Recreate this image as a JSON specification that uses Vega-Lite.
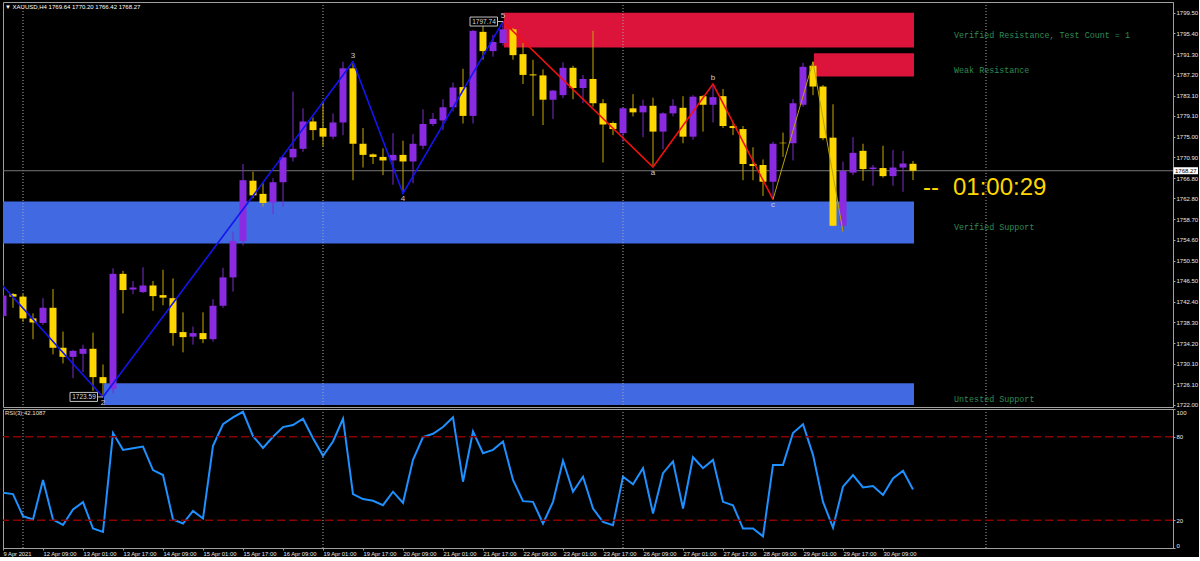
{
  "$schema": "https://vega.github.io/schema/vega-lite/v6.json",
  "background": "#000000",
  "padding": {"left": 1, "top": 1, "right": 0, "bottom": 0},
  "spacing": 2,
  "bounds": "flush",
  "datasets": {
    "candles": [
      {"i":0,"o":1739.6,"h":1746.7,"l":1739.2,"c":1743.6},
      {"i":1,"o":1743.9,"h":1744.1,"l":1741.2,"c":1743.4},
      {"i":2,"o":1743.4,"h":1743.9,"l":1738.4,"c":1739.1},
      {"i":3,"o":1739.1,"h":1740.1,"l":1735.0,"c":1738.3},
      {"i":4,"o":1738.2,"h":1743.1,"l":1737.8,"c":1741.2},
      {"i":5,"o":1741.2,"h":1744.9,"l":1732.0,"c":1733.3},
      {"i":6,"o":1733.3,"h":1736.5,"l":1730.2,"c":1731.5},
      {"i":7,"o":1731.5,"h":1732.9,"l":1727.3,"c":1732.7},
      {"i":8,"o":1732.1,"h":1733.9,"l":1728.5,"c":1733.1},
      {"i":9,"o":1733.1,"h":1736.3,"l":1724.8,"c":1727.5},
      {"i":10,"o":1727.5,"h":1730.0,"l":1723.59,"c":1726.3},
      {"i":11,"o":1725.2,"h":1749.0,"l":1724.3,"c":1747.9},
      {"i":12,"o":1747.9,"h":1748.5,"l":1740.1,"c":1744.7},
      {"i":13,"o":1744.8,"h":1746.5,"l":1743.9,"c":1745.2},
      {"i":14,"o":1744.3,"h":1749.2,"l":1744.1,"c":1745.6},
      {"i":15,"o":1745.6,"h":1746.5,"l":1740.6,"c":1743.5},
      {"i":16,"o":1743.7,"h":1748.7,"l":1741.7,"c":1743.2},
      {"i":17,"o":1743.1,"h":1747.0,"l":1733.7,"c":1736.2},
      {"i":18,"o":1736.4,"h":1740.3,"l":1732.4,"c":1735.4},
      {"i":19,"o":1735.5,"h":1737.5,"l":1733.9,"c":1736.2},
      {"i":20,"o":1736.2,"h":1740.3,"l":1734.2,"c":1735.0},
      {"i":21,"o":1735.0,"h":1742.9,"l":1734.5,"c":1741.6},
      {"i":22,"o":1741.6,"h":1749.1,"l":1741.2,"c":1747.2},
      {"i":23,"o":1747.2,"h":1756.2,"l":1744.4,"c":1754.4},
      {"i":24,"o":1754.4,"h":1769.6,"l":1753.5,"c":1766.4},
      {"i":25,"o":1766.3,"h":1768.1,"l":1762.8,"c":1763.4},
      {"i":26,"o":1763.7,"h":1765.8,"l":1761.2,"c":1761.9},
      {"i":27,"o":1762.0,"h":1766.8,"l":1759.7,"c":1766.0},
      {"i":28,"o":1766.0,"h":1771.0,"l":1761.2,"c":1770.9},
      {"i":29,"o":1770.9,"h":1783.9,"l":1770.1,"c":1772.6},
      {"i":30,"o":1772.6,"h":1780.6,"l":1772.0,"c":1778.0},
      {"i":31,"o":1778.0,"h":1778.8,"l":1774.3,"c":1776.3},
      {"i":32,"o":1776.7,"h":1781.9,"l":1773.0,"c":1775.0},
      {"i":33,"o":1775.0,"h":1779.6,"l":1774.5,"c":1777.8},
      {"i":34,"o":1777.8,"h":1789.8,"l":1775.3,"c":1788.5},
      {"i":35,"o":1788.5,"h":1789.8,"l":1766.4,"c":1773.6},
      {"i":36,"o":1773.6,"h":1776.7,"l":1768.9,"c":1771.4},
      {"i":37,"o":1771.5,"h":1771.7,"l":1769.6,"c":1771.0},
      {"i":38,"o":1771.0,"h":1772.7,"l":1767.4,"c":1770.3},
      {"i":39,"o":1770.3,"h":1775.7,"l":1765.5,"c":1771.4},
      {"i":40,"o":1771.4,"h":1774.2,"l":1763.8,"c":1770.1},
      {"i":41,"o":1770.1,"h":1775.5,"l":1765.8,"c":1773.6},
      {"i":42,"o":1773.2,"h":1780.4,"l":1772.5,"c":1777.5},
      {"i":43,"o":1777.5,"h":1779.7,"l":1777.1,"c":1778.5},
      {"i":44,"o":1778.2,"h":1782.4,"l":1776.3,"c":1780.8},
      {"i":45,"o":1780.8,"h":1785.7,"l":1780.0,"c":1784.7},
      {"i":46,"o":1784.8,"h":1788.4,"l":1777.6,"c":1779.1},
      {"i":47,"o":1779.1,"h":1796.1,"l":1777.6,"c":1795.9},
      {"i":48,"o":1795.7,"h":1797.4,"l":1790.2,"c":1791.9},
      {"i":49,"o":1791.9,"h":1795.1,"l":1790.8,"c":1793.7},
      {"i":50,"o":1793.5,"h":1797.74,"l":1793.0,"c":1796.2},
      {"i":51,"o":1796.2,"h":1796.5,"l":1790.2,"c":1791.1},
      {"i":52,"o":1791.3,"h":1793.5,"l":1785.4,"c":1787.2},
      {"i":53,"o":1787.3,"h":1790.2,"l":1779.1,"c":1787.1},
      {"i":54,"o":1787.1,"h":1788.3,"l":1777.3,"c":1782.3},
      {"i":55,"o":1782.3,"h":1784.2,"l":1778.5,"c":1784.1},
      {"i":56,"o":1783.2,"h":1789.7,"l":1782.6,"c":1788.6},
      {"i":57,"o":1788.6,"h":1789.0,"l":1782.4,"c":1784.6},
      {"i":58,"o":1784.6,"h":1787.2,"l":1781.6,"c":1786.4},
      {"i":59,"o":1786.4,"h":1795.9,"l":1780.9,"c":1781.6},
      {"i":60,"o":1781.6,"h":1782.4,"l":1769.9,"c":1777.4},
      {"i":61,"o":1777.7,"h":1778.0,"l":1775.3,"c":1776.5},
      {"i":62,"o":1775.7,"h":1780.8,"l":1774.0,"c":1780.6},
      {"i":63,"o":1780.6,"h":1783.4,"l":1779.0,"c":1779.8},
      {"i":64,"o":1779.8,"h":1782.3,"l":1774.9,"c":1781.1},
      {"i":65,"o":1781.1,"h":1782.7,"l":1769.0,"c":1776.0},
      {"i":66,"o":1776.0,"h":1779.8,"l":1772.5,"c":1779.6},
      {"i":67,"o":1779.6,"h":1782.4,"l":1779.0,"c":1781.1},
      {"i":68,"o":1780.7,"h":1783.0,"l":1773.7,"c":1775.0},
      {"i":69,"o":1775.0,"h":1783.2,"l":1774.4,"c":1782.9},
      {"i":70,"o":1783.0,"h":1783.2,"l":1776.0,"c":1781.3},
      {"i":71,"o":1781.3,"h":1785.4,"l":1777.8,"c":1782.8},
      {"i":72,"o":1783.0,"h":1784.4,"l":1776.7,"c":1777.1},
      {"i":73,"o":1777.1,"h":1777.6,"l":1775.3,"c":1776.7},
      {"i":74,"o":1776.5,"h":1777.1,"l":1766.4,"c":1769.6},
      {"i":75,"o":1769.6,"h":1772.9,"l":1766.4,"c":1769.2},
      {"i":76,"o":1769.4,"h":1770.5,"l":1763.3,"c":1766.1},
      {"i":77,"o":1766.1,"h":1774.0,"l":1762.6,"c":1773.6},
      {"i":78,"o":1773.8,"h":1775.8,"l":1771.0,"c":1773.7},
      {"i":79,"o":1773.7,"h":1782.4,"l":1770.3,"c":1781.6},
      {"i":80,"o":1781.3,"h":1789.6,"l":1780.9,"c":1788.8},
      {"i":81,"o":1789.0,"h":1789.8,"l":1783.2,"c":1784.9},
      {"i":82,"o":1784.9,"h":1785.2,"l":1774.3,"c":1774.7},
      {"i":83,"o":1774.8,"h":1781.4,"l":1757.3,"c":1757.4},
      {"i":84,"o":1757.4,"h":1770.1,"l":1756.2,"c":1768.2},
      {"i":85,"o":1767.9,"h":1774.9,"l":1767.4,"c":1771.8},
      {"i":86,"o":1772.2,"h":1773.6,"l":1766.3,"c":1768.6},
      {"i":87,"o":1768.6,"h":1769.4,"l":1765.3,"c":1768.9},
      {"i":88,"o":1768.8,"h":1773.2,"l":1766.9,"c":1767.2},
      {"i":89,"o":1767.2,"h":1772.4,"l":1765.3,"c":1768.9},
      {"i":90,"o":1768.9,"h":1772.2,"l":1764.1,"c":1769.7},
      {"i":91,"o":1769.64,"h":1770.2,"l":1766.42,"c":1768.27}
    ],
    "rsi": [
      {"i":0,"v":39.7},{"i":1,"v":38.8},{"i":2,"v":22.9},{"i":3,"v":20.5},{"i":4,"v":48.9},
      {"i":5,"v":20.5},{"i":6,"v":16.6},{"i":7,"v":27.7},{"i":8,"v":33.0},{"i":9,"v":14.0},
      {"i":10,"v":11.6},{"i":11,"v":82.7},{"i":12,"v":70.6},{"i":13,"v":71.8},{"i":14,"v":73.0},
      {"i":15,"v":56.1},{"i":16,"v":52.5},{"i":17,"v":20.5},{"i":18,"v":17.6},{"i":19,"v":26.7},
      {"i":20,"v":21.2},{"i":21,"v":73.5},{"i":22,"v":89},{"i":23,"v":94},{"i":24,"v":98},
      {"i":25,"v":80.5},{"i":26,"v":72},{"i":27,"v":80},{"i":28,"v":87},{"i":29,"v":88.5},
      {"i":30,"v":93},{"i":31,"v":79},{"i":32,"v":66.3},{"i":33,"v":76.6},{"i":34,"v":93},
      {"i":35,"v":38.8},{"i":36,"v":35.2},{"i":37,"v":34},{"i":38,"v":30.8},{"i":39,"v":40.5},
      {"i":40,"v":32.5},{"i":41,"v":63.4},{"i":42,"v":79.8},{"i":43,"v":82.2},{"i":44,"v":87},
      {"i":45,"v":94},{"i":46,"v":47.7},{"i":47,"v":83.8},{"i":48,"v":68.2},{"i":49,"v":70.6},
      {"i":50,"v":76.6},{"i":51,"v":48.9},{"i":52,"v":33.7},{"i":53,"v":33.2},{"i":54,"v":17.6},
      {"i":55,"v":33.2},{"i":56,"v":62.9},{"i":57,"v":40.5},{"i":58,"v":51.3},{"i":59,"v":28.4},
      {"i":60,"v":18.8},{"i":61,"v":16.4},{"i":62,"v":51.3},{"i":63,"v":45.8},{"i":64,"v":57.4},
      {"i":65,"v":24.8},{"i":66,"v":53.8},{"i":67,"v":62.2},{"i":68,"v":28.4},{"i":69,"v":65.3},
      {"i":70,"v":57.4},{"i":71,"v":63.4},{"i":72,"v":33.2},{"i":73,"v":30.8},{"i":74,"v":14},
      {"i":75,"v":14},{"i":76,"v":8.4},{"i":77,"v":59.8},{"i":78,"v":59.8},{"i":79,"v":82.7},
      {"i":80,"v":89},{"i":81,"v":67},{"i":82,"v":33.2},{"i":83,"v":14.7},{"i":84,"v":44.1},
      {"i":85,"v":52.5},{"i":86,"v":43.6},{"i":87,"v":44.6},{"i":88,"v":38.1},{"i":89,"v":50.1},
      {"i":90,"v":55.6},{"i":91,"v":42.1087}
    ],
    "zones": [
      {"start":50.1,"end":91.1,"top":1799.5,"bot":1792.6,"kind":"resistance","label":"Verified Resistance, Test Count = 1"},
      {"start":81.1,"end":91.1,"top":1791.5,"bot":1786.9,"kind":"resistance","label":"Weak Resistance"},
      {"start":0,"end":91.1,"top":1762.2,"bot":1753.9,"kind":"support","label":"Verified Support"},
      {"start":10.1,"end":91.1,"top":1726.3,"bot":1722.0,"kind":"support","label":"Untested Support"}
    ],
    "seps": [{"i":2},{"i":32},{"i":62},{"i":98.3}],
    "zigzag": [
      {"leg":"impulse","i":0,"p":1745.5},
      {"leg":"impulse","i":10,"p":1723.59},
      {"leg":"impulse","i":35,"p":1789.8},
      {"leg":"impulse","i":40,"p":1763.8},
      {"leg":"impulse","i":50,"p":1797.74},
      {"leg":"correction","i":50,"p":1797.74},
      {"leg":"correction","i":65,"p":1769.0},
      {"leg":"correction","i":71,"p":1785.4},
      {"leg":"correction","i":77,"p":1762.6},
      {"leg":"projection","i":77,"p":1762.6},
      {"leg":"projection","i":81,"p":1789.8},
      {"leg":"projection","i":84,"p":1756.2}
    ],
    "pivots": [
      {"i":10,"p":1723.59,"lbl":"2","side":"low"},
      {"i":35,"p":1789.8,"lbl":"3","side":"high"},
      {"i":40,"p":1763.8,"lbl":"4","side":"low"},
      {"i":50,"p":1797.74,"lbl":"5","side":"high"},
      {"i":65,"p":1769.0,"lbl":"a","side":"low"},
      {"i":71,"p":1785.4,"lbl":"b","side":"high"},
      {"i":77,"p":1762.6,"lbl":"c","side":"low"}
    ],
    "tags": [{"i":10,"p":1723.59},{"i":50,"p":1797.74}],
    "last": [{"i":91,"p":1768.27,"timer":"01:00:29"}],
    "info": [{"caption":"▼ XAUUSD,H4  1769.64 1770.20 1766.42 1768.27"}],
    "rsiinfo": [{"caption":"RSI(3) 42.1087"}],
    "levels": [{"v":80},{"v":20}]
  },
  "vconcat": [
    {
      "width": 1170,
      "height": 405,
      "encoding": {
        "y": {"type": "quantitative", "title": null, "scale": {"domain": [1721.6, 1801.6], "nice": false, "zero": false, "padding": 0},
              "axis": {"orient": "right", "title": null, "grid": false, "tickCount": 20,
                       "values": [1799.5,1795.4,1791.3,1787.2,1783.1,1779.1,1775.0,1770.9,1766.8,1762.8,1758.7,1754.6,1750.5,1746.5,1742.4,1738.3,1734.2,1730.1,1726.1,1722.0],
                       "format": ".2f", "labelFontSize": 6, "tickSize": 2, "labelPadding": 1, "labelOverlap": false, "labelSeparation": 0, "labelColor": "#E6E6E6"}},
        "x": {"type": "quantitative", "title": null, "scale": {"domain": [0, 117], "nice": false, "zero": false, "padding": 0}, "axis": null}
      },
      "layer": [
        {
          "data": {"name": "zones"},
          "mark": {"type": "rect", "clip": true},
          "encoding": {
            "x": {"field": "start", "type": "quantitative"},
            "x2": {"field": "end"},
            "y": {"field": "top", "type": "quantitative"},
            "y2": {"field": "bot"},
            "color": {"field": "kind", "type": "nominal", "scale": {"domain": ["resistance", "support"], "range": ["#DC143C", "#4169E1"]}, "legend": null}
          }
        },
        {
          "data": {"name": "seps"},
          "mark": {"type": "rule", "color": "#A8A8A8", "strokeDash": [1, 2], "strokeWidth": 1},
          "encoding": {"x": {"field": "i", "type": "quantitative"}, "y": null}
        },
        {
          "data": {"name": "last"},
          "mark": {"type": "rule", "color": "#777777", "strokeWidth": 1},
          "encoding": {"y": {"field": "p", "type": "quantitative"}, "x": null}
        },
        {
          "data": {"name": "candles"},
          "mark": {"type": "rule", "clip": true, "strokeWidth": 1},
          "encoding": {
            "x": {"field": "i", "type": "quantitative"},
            "y": {"field": "l", "type": "quantitative"},
            "y2": {"field": "h"},
            "color": {"condition": {"test": "datum.c > datum.o", "value": "#7A2CC8"}, "value": "#C4A800"}
          }
        },
        {
          "data": {"name": "candles"},
          "mark": {"type": "bar", "clip": true, "width": 7, "minBandSize": 1.2},
          "encoding": {
            "x": {"field": "i", "type": "quantitative"},
            "y": {"field": "o", "type": "quantitative"},
            "y2": {"field": "c"},
            "color": {"condition": {"test": "datum.c > datum.o", "value": "#8A2BE2"}, "value": "#FFD700"}
          }
        },
        {
          "data": {"name": "zigzag"},
          "transform": [{"filter": "datum.leg == 'impulse'"}],
          "mark": {"type": "line", "clip": true, "color": "#1414F0", "strokeWidth": 1.6},
          "encoding": {"x": {"field": "i", "type": "quantitative"}, "y": {"field": "p", "type": "quantitative"}}
        },
        {
          "data": {"name": "zigzag"},
          "transform": [{"filter": "datum.leg == 'correction'"}],
          "mark": {"type": "line", "clip": true, "color": "#F01010", "strokeWidth": 1.6},
          "encoding": {"x": {"field": "i", "type": "quantitative"}, "y": {"field": "p", "type": "quantitative"}}
        },
        {
          "data": {"name": "zigzag"},
          "transform": [{"filter": "datum.leg == 'projection'"}],
          "mark": {"type": "line", "clip": true, "color": "#B8A400", "strokeWidth": 1},
          "encoding": {"x": {"field": "i", "type": "quantitative"}, "y": {"field": "p", "type": "quantitative"}}
        },
        {
          "data": {"name": "pivots"},
          "transform": [{"filter": "datum.side == 'high'"}],
          "mark": {"type": "text", "dy": -6, "fontSize": 8, "color": "#C8CCD8", "baseline": "middle"},
          "encoding": {"x": {"field": "i", "type": "quantitative"}, "y": {"field": "p", "type": "quantitative"}, "text": {"field": "lbl"}}
        },
        {
          "data": {"name": "pivots"},
          "transform": [{"filter": "datum.side == 'low'"}],
          "mark": {"type": "text", "dy": 6, "fontSize": 8, "color": "#C8CCD8", "baseline": "middle"},
          "encoding": {"x": {"field": "i", "type": "quantitative"}, "y": {"field": "p", "type": "quantitative"}, "text": {"field": "lbl"}}
        },
        {
          "data": {"name": "tags"},
          "mark": {"type": "point", "shape": "M-3.3,-0.45H-0.55V0.45H-3.3Z M-0.55,0H0", "size": 400, "filled": true, "fill": "#000000", "stroke": "#C0C0C0", "strokeWidth": 1, "opacity": 1},
          "encoding": {"x": {"field": "i", "type": "quantitative"}, "y": {"field": "p", "type": "quantitative"}}
        },
        {
          "data": {"name": "tags"},
          "mark": {"type": "text", "dx": -19, "fontSize": 6.5, "color": "#D8D8D8", "align": "center", "baseline": "middle"},
          "encoding": {"x": {"field": "i", "type": "quantitative"}, "y": {"field": "p", "type": "quantitative"}, "text": {"field": "p", "type": "quantitative", "format": ".2f"}}
        },
        {
          "data": {"name": "zones"},
          "transform": [{"fold": ["top", "bot"], "as": ["edge", "level"]}],
          "mark": {"type": "text", "align": "left", "baseline": "middle", "dx": 40, "dy": 5, "font": "Liberation Mono", "fontSize": 8.4, "color": "#2E8B57"},
          "encoding": {
            "x": {"field": "end", "type": "quantitative"},
            "y": {"aggregate": "mean", "field": "level", "type": "quantitative"},
            "text": {"field": "label"}
          }
        },
        {
          "data": {"name": "last"},
          "mark": {"type": "text", "align": "left", "baseline": "middle", "dx": 10, "dy": 17, "fontSize": 24, "color": "#FFD700"},
          "encoding": {"x": {"field": "i", "type": "quantitative"}, "y": {"field": "p", "type": "quantitative"}, "text": {"value": "--"}}
        },
        {
          "data": {"name": "last"},
          "mark": {"type": "text", "align": "left", "baseline": "middle", "dx": 40, "dy": 17, "fontSize": 24, "color": "#FFD700"},
          "encoding": {"x": {"field": "i", "type": "quantitative"}, "y": {"field": "p", "type": "quantitative"}, "text": {"field": "timer"}}
        },
        {
          "data": {"name": "last"},
          "mark": {"type": "rect", "height": 7, "color": "#FFFFFF", "clip": false},
          "encoding": {
            "x": {"datum": 117.05, "type": "quantitative"},
            "x2": {"datum": 119.5},
            "y": {"field": "p", "type": "quantitative"}
          }
        },
        {
          "data": {"name": "last"},
          "mark": {"type": "text", "align": "left", "baseline": "middle", "dx": 2, "fontSize": 6, "color": "#000000"},
          "encoding": {"x": {"datum": 117, "type": "quantitative"}, "y": {"field": "p", "type": "quantitative"}, "text": {"field": "p", "type": "quantitative", "format": ".2f"}}
        },
        {
          "data": {"name": "info"},
          "mark": {"type": "text", "align": "left", "baseline": "top", "dx": 2, "dy": 2, "fontSize": 6, "color": "#FFFFFF"},
          "encoding": {"x": {"datum": 0, "type": "quantitative"}, "y": {"datum": 1801.6, "type": "quantitative"}, "text": {"field": "caption"}}
        }
      ]
    },
    {
      "width": 1170,
      "height": 139,
      "layer": [
        {
          "data": {"name": "rsi"},
          "mark": {"type": "line", "color": "#1E90FF", "strokeWidth": 2, "clip": true},
          "encoding": {
            "x": {"field": "i", "type": "quantitative", "title": null, "scale": {"domain": [0, 117], "nice": false, "zero": false, "padding": 0},
                  "axis": {"title": null, "grid": false, "values": [0,4,8,12,16,20,24,28,32,36,40,44,48,52,56,60,64,68,72,76,80,84,88],
                           "labelExpr": "['9 Apr 2021','12 Apr 09:00','13 Apr 01:00','13 Apr 17:00','14 Apr 09:00','15 Apr 01:00','15 Apr 17:00','16 Apr 09:00','19 Apr 01:00','19 Apr 17:00','20 Apr 09:00','21 Apr 01:00','21 Apr 17:00','22 Apr 09:00','23 Apr 01:00','23 Apr 17:00','26 Apr 09:00','27 Apr 01:00','27 Apr 17:00','28 Apr 09:00','29 Apr 01:00','29 Apr 17:00','30 Apr 09:00'][round(datum.value/4)]",
                           "labelAlign": "left", "labelBaseline": "top", "labelFontSize": 5.8, "labelPadding": 0, "tickSize": 2, "labelOverlap": false, "labelFlush": false, "labelColor": "#E6E6E6"}},
            "y": {"field": "v", "type": "quantitative", "title": null, "scale": {"domain": [0, 100], "nice": false, "padding": 0},
                  "axis": {"orient": "right", "title": null, "grid": false, "values": [0, 20, 80, 100], "labelFontSize": 6, "tickSize": 2, "labelPadding": 1, "labelFlush": true, "labelOverlap": false, "labelColor": "#E6E6E6"}}
          }
        },
        {
          "data": {"name": "seps"},
          "mark": {"type": "rule", "color": "#A8A8A8", "strokeDash": [1, 2], "strokeWidth": 1},
          "encoding": {"x": {"field": "i", "type": "quantitative", "title": null}}
        },
        {
          "data": {"name": "levels"},
          "mark": {"type": "rule", "color": "#8B0000", "strokeDash": [8, 4], "strokeWidth": 1.5},
          "encoding": {"y": {"field": "v", "type": "quantitative", "title": null}}
        },
        {
          "data": {"name": "rsiinfo"},
          "mark": {"type": "text", "align": "left", "baseline": "top", "dx": 2, "dy": 1, "fontSize": 6, "color": "#E0E0E0"},
          "encoding": {
            "x": {"datum": 0, "type": "quantitative", "title": null},
            "y": {"datum": 100, "type": "quantitative", "title": null},
            "text": {"field": "caption"}
          }
        }
      ]
    }
  ],
  "config": {
    "background": "#000000",
    "view": {"stroke": "#A0A0A0", "strokeWidth": 1},
    "axis": {"domainColor": "#A0A0A0", "tickColor": "#A0A0A0", "labelFont": "Liberation Sans", "grid": false, "labelOverlap": false, "labelSeparation": 0},
    "text": {"font": "Liberation Sans"}
  }
}
